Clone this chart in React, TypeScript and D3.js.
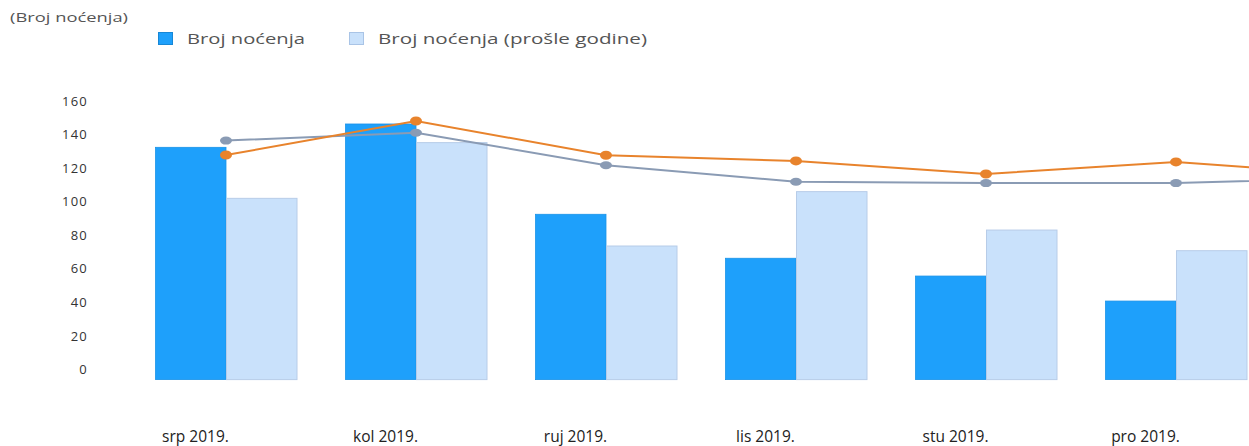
import React from "react";
import * as d3 from "d3";

const months = ["srp 2019.", "kol 2019.", "ruj 2019.", "lis 2019.", "stu 2019.", "pro 2019."];
const lineMonths = ["srp 2019.", "kol 2019.", "ruj 2019.", "lis 2019.", "stu 2019.", "pro 2019.", "sij 2020."];
const nocenja = [132.4, 146.3, 92.5, 66.3, 55.7, 40.8];
const nocenjaProsle = [102.0, 135.2, 73.6, 106.0, 83.1, 70.8];
const orangeLine = [127.8, 148.1, 127.7, 124.3, 116.5, 123.7, 115.6];
const grayLine = [136.4, 141.1, 121.7, 111.9, 111.1, 111.1, 114.2];
const yTicks = [0, 20, 40, 60, 80, 100, 120, 140, 160];
const legendLabels = ["Broj noćenja", "Broj noćenja (prošle godine)"];
const yTitle = "(Broj noćenja)";

const W = 1249;
const H = 446;
const DARK = "#1ea0fb";
const LIGHT = "#c9e1fb";
const ORANGE = "#e8832c";
const GRAY = "#8a9bb4";

export default function App() {
  const x = d3.scaleBand<string>().domain(lineMonths).range([131, 131 + 190 * lineMonths.length]).paddingInner(0).paddingOuter(0);
  const y = d3.scaleLinear().domain([-6, 160]).range([379.6, 101]);
  const center = (m: string) => (x(m) as number) + x.bandwidth() / 2;
  const barW = 71;
  const base = y(-6);

  const line = d3
    .line<number>()
    .x((_, i) => center(lineMonths[i]))
    .y((v) => y(v));

  const font = "'Open Sans', 'DejaVu Sans', sans-serif";

  return (
    <svg width={W} height={H} style={{ position: "absolute", left: 0, top: 0, background: "#fff" }} fontFamily={font}>
      <defs>
        <clipPath id="plotclip">
          <rect x={0} y={0} width={W} height={H} />
        </clipPath>
      </defs>
      <text x={10} y={22} fontSize={12.5} fill="#555" textLength={118} lengthAdjust="spacingAndGlyphs">
        {yTitle}
      </text>
      {/* legend */}
      <rect x={158.5} y={32.5} width={14} height={12} fill={DARK} stroke="#1787d6" strokeWidth={1} />
      <text x={187} y={44} fontSize={14} fill="#555" textLength={118} lengthAdjust="spacingAndGlyphs">
        {legendLabels[0]}
      </text>
      <rect x={349.5} y={32.5} width={14} height={12} fill={LIGHT} stroke="#a9c4e6" strokeWidth={1} />
      <text x={378} y={44} fontSize={14} fill="#555" textLength={269} lengthAdjust="spacingAndGlyphs">
        {legendLabels[1]}
      </text>

      {/* y axis labels */}
      {yTicks.map((t) => (
        <text key={t} x={88} y={y(t)} dy="0.35em" textAnchor="end" fontSize={13} fill="#333" letterSpacing={1.2}>
          {t}
        </text>
      ))}

      {/* bars */}
      {months.map((m, i) => (
        <g key={m}>
          <rect x={center(m) - barW + 0.5} y={y(nocenja[i])} width={barW - 0.5} height={base - y(nocenja[i])} fill={DARK} stroke="#1b93e8" strokeWidth={0.8} />
          <rect x={center(m) + 0.5} y={y(nocenjaProsle[i])} width={barW - 0.5} height={base - y(nocenjaProsle[i])} fill={LIGHT} stroke="#b7cce8" strokeWidth={1} />
        </g>
      ))}

      {/* lines */}
      <g clipPath="url(#plotclip)">
        <path d={line(grayLine) || ""} fill="none" stroke={GRAY} strokeWidth={2} />
        <path d={line(orangeLine) || ""} fill="none" stroke={ORANGE} strokeWidth={2} />
        {grayLine.slice(0, months.length).map((v, i) => (
          <ellipse key={"g" + i} cx={center(lineMonths[i])} cy={y(v)} rx={6} ry={4} fill={GRAY} />
        ))}
        {orangeLine.slice(0, months.length).map((v, i) => (
          <ellipse key={"o" + i} cx={center(lineMonths[i])} cy={y(v)} rx={6} ry={4.5} fill={ORANGE} />
        ))}
      </g>

      {/* x labels */}
      {months.map((m) => (
        <text key={m} x={center(m) - barW / 2 + 5} y={437} dy="0.35em" textAnchor="middle" fontSize={15.5} fill="#222">
          {m}
        </text>
      ))}
    </svg>
  );
}
